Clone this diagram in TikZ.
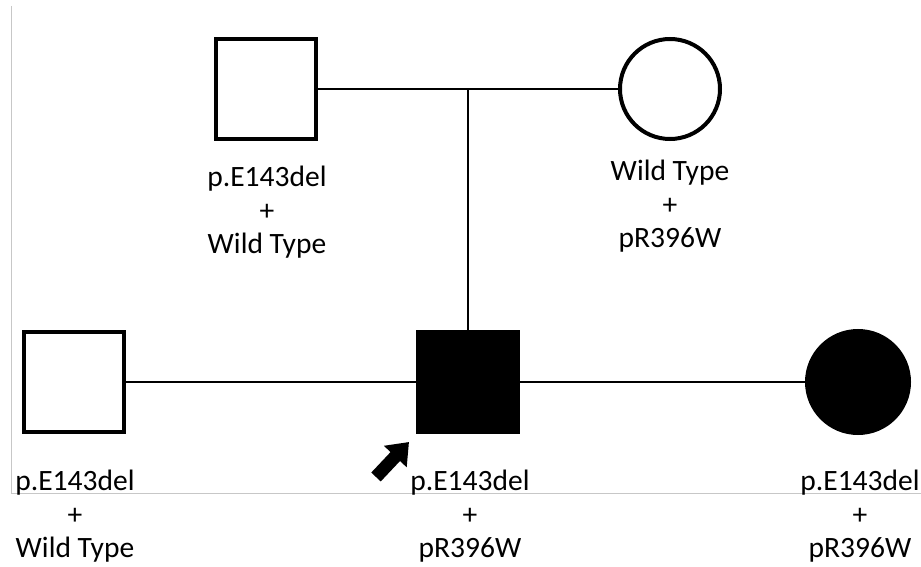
\documentclass[tikz,border=0pt]{standalone}
\usepackage{fontspec}
\setmainfont{Carlito}
\usetikzlibrary{positioning, arrows.meta, calc}

\begin{document}
\begin{tikzpicture}[
  x=1pt, y=-1pt,
  font=\fontsize{29.5}{33.5}\selectfont,
  malebox/.style={draw=black, fill=white, line width=4pt, rectangle,
    minimum size=100pt, inner sep=0pt},
  femalebox/.style={draw=black, fill=white, line width=4pt, circle,
    minimum size=100pt, inner sep=0pt},
  affected/.style={fill=black},
  link/.style={draw=black, line width=2.5pt},
  gtlbl/.style={align=center, anchor=north, inner sep=0pt},
  pointer/.style={line width=13pt, -{Triangle[length=20pt, width=30pt]}},
  frame/.style={draw=black!22, line width=1pt}
]
\useasboundingbox (0,0) rectangle (921,567);

% faint slide edges
\draw[frame] (11,6) -- (11,493) -- (921,493);

% parents
\node[malebox]   (father) at (266,89) {};
\node[femalebox] (mother) at (670,89) {};

% second row
\node[malebox]           (relm)    at (74,382)  {};
\node[malebox, affected] (proband) at (468,382) {};
\node[femalebox, affected, minimum size=102pt] (relf) at (858,382) {};

% lines
\draw[link] (father.east) -- (mother.west);
\draw[link] (father.east -| proband.north) -- (proband.north);
\draw[link] (relm.east) -- (proband.west);
\draw[link] (proband.east) -- (relf.west);

% genotypes
\node[gtlbl] (fatherlbl)  at (267,166) {p.E143del\\+\\Wild Type};
\node[gtlbl] (motherlbl)  at (670,160) {Wild Type\\+\\pR396W};
\node[gtlbl] (relmlbl)    at (75,470)  {p.E143del\\+\\Wild Type};
\node[gtlbl] (probandlbl) at (470,470) {p.E143del\\+\\pR396W};
\node[gtlbl] (relflbl)    at (860,470) {p.E143del\\+\\pR396W};

% proband marker
\coordinate (ptail) at (376,477);
\coordinate (ptip)  at (409,442);
\draw[pointer] (ptail) -- (ptip);

\end{tikzpicture}
\end{document}
